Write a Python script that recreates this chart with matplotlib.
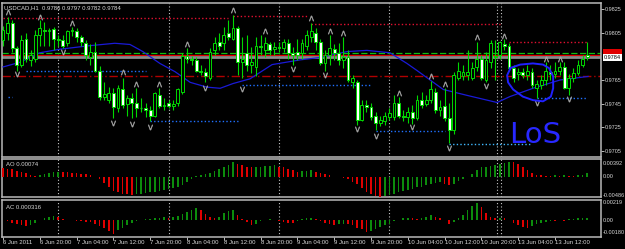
import matplotlib
matplotlib.use("Agg")
import matplotlib.pyplot as plt
import matplotlib.transforms as mtransforms

# USDCAD H1, 6 Jun 2011 12:00 .. 13 Jun 2011 19:00
opens = [0.9799, 0.9805, 0.9813, 0.9792, 0.9778, 0.9800, 0.9782, 0.9783, 0.9803, 0.9807,
         0.9806, 0.9808, 0.9800, 0.9799, 0.9796, 0.9806, 0.9806, 0.9801, 0.9796, 0.9784,
         0.9789, 0.9773, 0.9751, 0.9748, 0.9754, 0.9741, 0.9757, 0.9745, 0.9750, 0.9746,
         0.9741, 0.9741, 0.9740, 0.9735, 0.9752, 0.9743, 0.9746, 0.9743, 0.9746, 0.9755,
         0.9785, 0.9783, 0.9782, 0.9773, 0.9772, 0.9767, 0.9790, 0.9797, 0.9796, 0.9805,
         0.9800, 0.9809, 0.9780, 0.9788, 0.9778, 0.9776, 0.9794, 0.9790, 0.9795, 0.9791,
         0.9793, 0.9792, 0.9796, 0.9788, 0.9789, 0.9788, 0.9794, 0.9801, 0.9805, 0.9797,
         0.9779, 0.9786, 0.9791, 0.9788, 0.9782, 0.9784, 0.9763, 0.9763, 0.9731, 0.9744,
         0.9742, 0.9735, 0.9729, 0.9730, 0.9734, 0.9734, 0.9746, 0.9735, 0.9734, 0.9738,
         0.9733, 0.9748, 0.9745, 0.9748, 0.9755, 0.9740, 0.9743, 0.9733, 0.9723, 0.9767,
         0.9768, 0.9769, 0.9767, 0.9776, 0.9783, 0.9765, 0.9780, 0.9784, 0.9786, 0.9795,
         0.9794, 0.9775, 0.9770, 0.9772, 0.9769, 0.9772, 0.9758, 0.9761, 0.9765, 0.9772,
         0.9770, 0.9773, 0.9776, 0.9758, 0.9767, 0.9771, 0.9778, 0.9786]
highs = [0.9811, 0.9818, 0.9816, 0.9794, 0.9803, 0.9805, 0.9790, 0.9807, 0.9816, 0.9814,
         0.9809, 0.9810, 0.9803, 0.9803, 0.9807, 0.9810, 0.9809, 0.9803, 0.9799, 0.9795,
         0.9797, 0.9777, 0.9763, 0.9759, 0.9758, 0.9761, 0.9767, 0.9752, 0.9754, 0.9758,
         0.9750, 0.9746, 0.9743, 0.9755, 0.9758, 0.9750, 0.9748, 0.9748, 0.9758, 0.9788,
         0.9792, 0.9785, 0.9784, 0.9778, 0.9775, 0.9792, 0.9801, 0.9805, 0.9810, 0.9816,
         0.9820, 0.9811, 0.9801, 0.9803, 0.9793, 0.9801, 0.9803, 0.9801, 0.9797, 0.9797,
         0.9797, 0.9800, 0.9800, 0.9793, 0.9800, 0.9800, 0.9807, 0.9813, 0.9809, 0.9800,
         0.9790, 0.9803, 0.9795, 0.9796, 0.9801, 0.9790, 0.9769, 0.9765, 0.9748, 0.9748,
         0.9746, 0.9738, 0.9735, 0.9738, 0.9741, 0.9752, 0.9751, 0.9740, 0.9742, 0.9744,
         0.9752, 0.9755, 0.9752, 0.9764, 0.9758, 0.9748, 0.9758, 0.9746, 0.9772, 0.9780,
         0.9778, 0.9790, 0.9780, 0.9797, 0.9786, 0.9789, 0.9799, 0.9799, 0.9798, 0.9800,
         0.9796, 0.9778, 0.9775, 0.9775, 0.9778, 0.9775, 0.9765, 0.9769, 0.9780, 0.9778,
         0.9780, 0.9780, 0.9780, 0.9770, 0.9775, 0.9782, 0.9786, 0.9797]
lows = [0.9794, 0.9799, 0.9789, 0.9773, 0.9776, 0.9780, 0.9777, 0.9780, 0.9794, 0.9794,
        0.9794, 0.9790, 0.9794, 0.9792, 0.9794, 0.9802, 0.9797, 0.9794, 0.9782, 0.9778,
        0.9772, 0.9748, 0.9748, 0.9746, 0.9733, 0.9738, 0.9741, 0.9735, 0.9733, 0.9734,
        0.9738, 0.9734, 0.9730, 0.9734, 0.9741, 0.9740, 0.9741, 0.9740, 0.9743, 0.9753,
        0.9779, 0.9778, 0.9772, 0.9769, 0.9763, 0.9765, 0.9786, 0.9790, 0.9790, 0.9799,
        0.9799, 0.9769, 0.9767, 0.9773, 0.9771, 0.9768, 0.9786, 0.9784, 0.9786, 0.9786,
        0.9789, 0.9789, 0.9783, 0.9778, 0.9782, 0.9783, 0.9790, 0.9797, 0.9790, 0.9778,
        0.9773, 0.9778, 0.9782, 0.9778, 0.9775, 0.9763, 0.9758, 0.9727, 0.9730, 0.9738,
        0.9731, 0.9723, 0.9726, 0.9727, 0.9731, 0.9731, 0.9733, 0.9730, 0.9729, 0.9728,
        0.9731, 0.9741, 0.9743, 0.9746, 0.9737, 0.9735, 0.9730, 0.9712, 0.9719, 0.9765,
        0.9765, 0.9765, 0.9765, 0.9773, 0.9765, 0.9763, 0.9775, 0.9765, 0.9783, 0.9790,
        0.9773, 0.9763, 0.9765, 0.9767, 0.9765, 0.9758, 0.9750, 0.9757, 0.9761, 0.9765,
        0.9767, 0.9769, 0.9757, 0.9752, 0.9763, 0.9769, 0.9776, 0.9782]
closes = [0.9807, 0.9813, 0.9792, 0.9778, 0.9799, 0.9783, 0.9786, 0.9803, 0.9809, 0.9806,
          0.9807, 0.9800, 0.9799, 0.9794, 0.9806, 0.9807, 0.9801, 0.9797, 0.9786, 0.9789,
          0.9773, 0.9751, 0.9753, 0.9754, 0.9742, 0.9758, 0.9744, 0.9750, 0.9746, 0.9741,
          0.9741, 0.9740, 0.9735, 0.9754, 0.9743, 0.9744, 0.9743, 0.9745, 0.9757, 0.9785,
          0.9783, 0.9782, 0.9773, 0.9772, 0.9768, 0.9789, 0.9796, 0.9794, 0.9803, 0.9801,
          0.9809, 0.9780, 0.9783, 0.9778, 0.9780, 0.9794, 0.9793, 0.9796, 0.9790, 0.9793,
          0.9792, 0.9797, 0.9788, 0.9786, 0.9786, 0.9796, 0.9803, 0.9806, 0.9797, 0.9779,
          0.9786, 0.9792, 0.9788, 0.9782, 0.9784, 0.9765, 0.9767, 0.9731, 0.9744, 0.9742,
          0.9734, 0.9729, 0.9731, 0.9735, 0.9737, 0.9746, 0.9735, 0.9734, 0.9738, 0.9733,
          0.9748, 0.9744, 0.9748, 0.9757, 0.9740, 0.9742, 0.9733, 0.9723, 0.9769, 0.9773,
          0.9772, 0.9772, 0.9775, 0.9783, 0.9767, 0.9782, 0.9796, 0.9785, 0.9797, 0.9794,
          0.9775, 0.9767, 0.9772, 0.9769, 0.9773, 0.9761, 0.9762, 0.9765, 0.9773, 0.9770,
          0.9773, 0.9776, 0.9758, 0.9767, 0.9771, 0.9778, 0.9783, 0.9784]

ao = [0.0020, 0.0019, 0.0018, 0.0014, 0.0011, 0.0008, 0.0004, 0.0001, 0.0004, 0.0006,
      0.0008, 0.0010, 0.0012, 0.0011, 0.0010, 0.0009, 0.0008, 0.0007, 0.0005, 0.0003,
      0.0000, -0.0007, -0.0015, -0.0026, -0.0034, -0.0038, -0.0041, -0.0043, -0.0044, -0.0042,
      -0.0041, -0.0040, -0.0038, -0.0036, -0.0034, -0.0032, -0.0030, -0.0028, -0.0025, -0.0020,
      -0.0012, -0.0005, 0.0001, 0.0004, 0.0006, 0.0009, 0.0013, 0.0018, 0.0023, 0.0028,
      0.0034, 0.0030, 0.0027, 0.0024, 0.0022, 0.0023, 0.0024, 0.0025, 0.0026, 0.0027,
      0.0024, 0.0022, 0.0019, 0.0016, 0.0012, 0.0013, 0.0014, 0.0015, 0.0012, 0.0009,
      0.0006, 0.0003, 0.0000, -0.0002, -0.0004, -0.0007, -0.0013, -0.0019, -0.0027, -0.0036,
      -0.0043, -0.0047, -0.0048, -0.0047, -0.0044, -0.0041, -0.0037, -0.0035, -0.0033, -0.0029,
      -0.0026, -0.0024, -0.0021, -0.0017, -0.0015, -0.0013, -0.0017, -0.0020, -0.0018, -0.0011,
      -0.0007, -0.0002, 0.0005, 0.0016, 0.0022, 0.0024, 0.0025, 0.0028, 0.0030, 0.0032,
      0.0036, 0.0034, 0.0030, 0.0022, 0.0016, 0.0009, 0.0004, 0.0003, 0.0002, 0.0001,
      0.0003, 0.0002, 0.0003, 0.0002, 0.0001, 0.0003, 0.0004, 0.00074]
ac = [0.0000, -0.0001, -0.0003, -0.0005, -0.0006, -0.0007, -0.0006, -0.0003, 0.0000, 0.0002,
      0.0004, 0.0005, 0.0004, 0.0001, 0.00005, 0.0000, -0.0001, -0.00012, -0.0002, -0.00025,
      -0.0004, -0.0007, -0.0009, -0.0013, -0.0016, -0.0012, -0.0009, -0.0006, -0.0003, -0.0001,
      0.0000, 0.0001, 0.00012, 0.0002, 0.0003, 0.00032, 0.0003, 0.0004, 0.0005, 0.0007,
      0.0010, 0.0012, 0.0014, 0.0012, 0.0007, 0.0004, 0.0002, 0.0004, 0.0008, 0.0011,
      0.0012, 0.0006, 0.0001, -0.0002, -0.0006, -0.0004, -0.0001, 0.0000, 0.0001, 0.0000,
      -0.0001, -0.0002, -0.0003, -0.00032, -0.0001, 0.0001, 0.0002, 0.00022, 0.0001, -0.0001,
      -0.0003, -0.0004, -0.0006, -0.0005, -0.0004, -0.0005, -0.0006, -0.0009, -0.0011, -0.0014,
      -0.0013, -0.0010, -0.0008, -0.0006, -0.0004, -0.0001, 0.0000, 0.0002, 0.0003, 0.0002,
      0.0001, 0.0003, 0.0004, 0.0006, 0.0004, 0.0002, 0.0000, -0.0005, -0.0002, 0.0002,
      0.0006, 0.0012, 0.0017, 0.0021, 0.0016, 0.0009, 0.0004, 0.0002, 0.0003, 0.0002,
      0.0000, -0.0003, -0.0006, -0.0008, -0.0009, -0.0007, -0.0005, -0.0003, -0.0002, -0.0001,
      -0.00015, 0.0000, -0.00005, 0.0001, 0.00015, 0.0002, 0.00025, 0.000316]

# moving average, read at a few bars
ma_bars = [0, 3.7, 8, 12.4, 18.9, 24.3, 27.6, 30.4, 34.1, 37.4, 40.7, 44.3, 47.2, 50, 53.7,
           58.5, 64.6, 68.9, 74.8, 79.1, 84.1, 87.8, 90, 95.7, 100.9, 107.4, 110.2, 115.2,
           121.1, 127.2]
ma_vals = [0.9776, 0.9780, 0.9788, 0.9791, 0.9794, 0.9796, 0.9795, 0.9789, 0.9779, 0.9772,
           0.9763, 0.9759, 0.9758, 0.9762, 0.9766, 0.9778, 0.9782, 0.9784, 0.9789, 0.9790,
           0.9788, 0.9779, 0.9773, 0.9757, 0.9752, 0.9746, 0.9751, 0.9758, 0.9765, 0.9768]

# fractals
up_bars = [1, 8, 15, 26, 29, 34, 40, 50, 57, 67, 71, 74, 86, 93, 96, 103, 109, 118, 121]
up_vals = [0.9822, 0.9818, 0.9813, 0.9772, 0.9762, 0.9762, 0.9795, 0.9824, 0.9806, 0.9817,
           0.9806, 0.9805, 0.9754, 0.9768, 0.9762, 0.9801, 0.9802, 0.9783, 0.9783]
dn_bars = [3, 13, 24, 28, 32, 44, 52, 63, 70, 77, 81, 89, 97, 105, 116, 123]
dn_vals = [0.9770, 0.9789, 0.9729, 0.9728, 0.9725, 0.9758, 0.9757, 0.9774, 0.9769, 0.9724,
           0.9718, 0.9725, 0.9708, 0.9760, 0.9746, 0.9749]

# fractal levels
res_start = [0, 50, 67, 110]
res_end = [49, 66, 108, 127]
res_price = [0.9817, 0.9819, 0.9812, 0.9797]
sup_start = [1, 5, 32, 52, 81, 97, 116]
sup_end = [2, 31, 51, 80, 96, 115, 127]
sup_price = [0.9751, 0.9773, 0.9730, 0.9761, 0.9722, 0.9711, 0.9750]

green_level = 0.9788
red_level = 0.9786
bid = 0.9784
dashdot_level = 0.9768

sep_bars = [11.9, 36, 60, 84, 107.4, 108.3]

time_bars = [0, 8, 16, 24, 32, 40, 48, 56, 64, 72, 80, 88, 96, 104, 112, 120]
time_labels = ["6 Jun 2011", "6 Jun 20:00", "7 Jun 04:00", "7 Jun 12:00", "7 Jun 20:00",
               "8 Jun 04:00", "8 Jun 12:00", "8 Jun 20:00", "9 Jun 04:00", "9 Jun 12:00",
               "9 Jun 20:00", "10 Jun 04:00", "10 Jun 12:00", "10 Jun 20:00",
               "13 Jun 04:00", "13 Jun 12:00"]
price_ticks = [0.9825, 0.9805, 0.9765, 0.9745, 0.9725, 0.9705]

# hand drawn marks
loop_bars = [110.2, 112.4, 115.2, 117.4, 118.7, 119.6, 119.6, 119.1, 117.4, 115.2, 113.0,
             110.9, 109.8, 109.6, 110.2]
loop_vals = [0.97750, 0.97780, 0.97790, 0.97780, 0.97750, 0.97680, 0.97580, 0.97510,
             0.97470, 0.97480, 0.97510, 0.97570, 0.97630, 0.97690, 0.97740]

plt.rcParams["font.family"] = ["Liberation Sans", "DejaVu Sans"]
GREEN = "#00d800"
TXT = "#d8d8d8"
FS = 4.3
FS_R = 4.0
n = len(closes)
bars = list(range(n))

fig = plt.figure(figsize=(6.25, 2.49), dpi=100, facecolor="black")
W, H = 625.0, 249.0
ax = fig.add_axes([2 / W, 1 - 157 / H, 599 / W, 154 / H])
ax_ao = fig.add_axes([2 / W, 1 - 197 / H, 599 / W, 38 / H])
ax_ac = fig.add_axes([2 / W, 1 - 237 / H, 599 / W, 37 / H])

for a in (ax, ax_ao, ax_ac):
    a.set_facecolor("black")
    a.set_xlim(-0.22, 130.0)
    for s in a.spines.values():
        s.set_color("#b8b8b8")
        s.set_linewidth(1.1)
    for b in sep_bars:
        a.axvline(b, color="#c8c8c8", lw=0.8, ls=(0, (1, 2)), zorder=1)
    a.tick_params(axis="x", length=0, labelbottom=False)

# main chart
ax.set_ylim(0.9700, 0.9830)
ax.yaxis.tick_right()
ax.set_yticks(price_ticks)
ax.set_yticklabels(["%.4f" % p for p in price_ticks])
ax.tick_params(axis="y", colors=TXT, labelsize=FS_R, length=2, width=0.6, pad=0.8)

ax.axhline(green_level, color="#10c010", lw=0.9, ls=(0, (5, 2)), zorder=2)
ax.axhline(red_level, color="#e00000", lw=0.9, zorder=2)
ax.axhline(bid, color="#8a8a8a", lw=2.0, zorder=2)
ax.axhline(dashdot_level, color="#b00000", lw=1.0, ls=(0, (6, 2, 1, 2)), zorder=2)

ax.hlines(res_price, res_start, res_end, colors="#e01030", lw=1.0, ls=(0, (1, 1.6)), zorder=2)
sup_colors = ["#2070ff"] * len(sup_price)
sup_colors[5] = "#40b8ff"
ax.hlines(sup_price, sup_start, sup_end, colors=sup_colors, lw=1.0, ls=(0, (1, 1.6)), zorder=2)

ax.plot(ma_bars, ma_vals, color="#1a1ad8", lw=0.9, zorder=3)

ax.vlines(bars, lows, highs, color=GREEN, lw=0.8, zorder=4)
for i in bars:
    o, c = opens[i], closes[i]
    fill = "white" if c < o else "black"
    if abs(c - o) < 0.00005:
        ax.hlines(c, i - 0.3, i + 0.3, color=GREEN if c >= o else "white", lw=1.0, zorder=5)
    else:
        ax.bar(i, abs(c - o), bottom=min(o, c), width=0.62, color=fill,
               edgecolor=GREEN, linewidth=0.7, zorder=5)

ax.scatter(up_bars, up_vals, marker=r"$\Lambda$", s=14, color="#a8a8a8", linewidths=0.3, zorder=6)
ax.scatter(dn_bars, dn_vals, marker=r"$\mathsf{V}$", s=14, color="#a8a8a8", linewidths=0.3, zorder=6)

ax.plot(loop_bars, loop_vals, color="#2020ff", lw=1.4, zorder=7)
ax.text(110.0, 0.9712, "LoS", color="#2828ff", fontsize=21, va="baseline", ha="left",
        family=["DejaVu Sans"], zorder=7)

ax.text(0.003, 0.985, "USDCAD,H1  0.9786 0.9797 0.9782 0.9784", transform=ax.transAxes,
        color=TXT, fontsize=FS, va="top", ha="left")

bt = mtransforms.blended_transform_factory(ax.transAxes, ax.transData)
ax.text(1.005, red_level + 0.00025, "0.9786", transform=bt, fontsize=FS_R, color="#e00000",
        va="center", ha="left", bbox=dict(boxstyle="square,pad=0.15", fc="#e00000", ec="none"))
ax.text(1.005, bid, "0.9784", transform=bt, fontsize=FS_R, color="black", va="center", ha="left",
        bbox=dict(boxstyle="square,pad=0.15", fc="white", ec="none"))

# AO
def bar_colors(vals):
    cols = ["#e00000"]
    for k in range(1, len(vals)):
        cols.append("#0c8c0c" if vals[k] > vals[k - 1] else "#e00000")
    return cols

ax_ao.set_ylim(-0.0049, 0.0042)
ax_ao.bar(bars, ao, width=0.35, color=bar_colors(ao), linewidth=0, zorder=3)
ax_ao.set_yticks([])
ax_ao.text(0.006, 0.86, "AO 0.00074", transform=ax_ao.transAxes, color=TXT, fontsize=FS, va="center")
for val, frac in zip(["0.00392", "0.00", "-0.00486"], [0.89, 0.53, 0.03]):
    ax_ao.text(1.003, frac, val, transform=ax_ao.transAxes, color=TXT, fontsize=FS_R, va="center")

# AC
ax_ac.set_ylim(-0.0020, 0.0024)
ax_ac.bar(bars, ac, width=0.35, color=bar_colors(ac), linewidth=0, zorder=3)
ax_ac.set_yticks([])
ax_ac.text(0.006, 0.81, "AC 0.000316", transform=ax_ac.transAxes, color=TXT, fontsize=FS, va="center")
for val, frac in zip(["0.00219", "0.00", "-0.00180"], [0.92, 0.44, 0.11]):
    ax_ac.text(1.003, frac, val, transform=ax_ac.transAxes, color=TXT, fontsize=FS_R, va="center")

ax_ac.set_xticks(time_bars)
ax_ac.set_xticklabels(time_labels, ha="left")
ax_ac.tick_params(axis="x", length=2, width=0.6, colors=TXT, labelsize=FS, pad=0.5, labelbottom=True)

fig.savefig("out.png", dpi=100, facecolor="black")
